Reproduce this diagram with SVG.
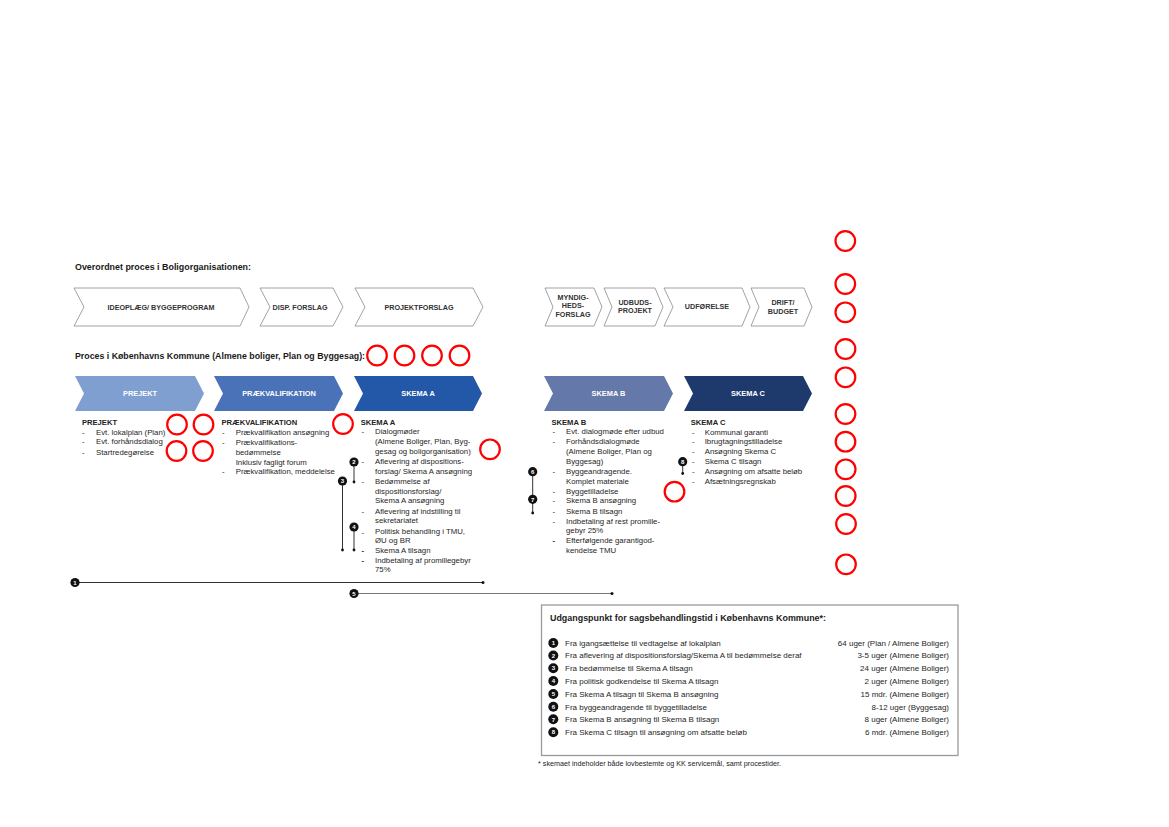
<svg xmlns="http://www.w3.org/2000/svg" width="1169" height="827" viewBox="0 0 1169 827">
<defs>
<style>
text{font-family:"Liberation Sans",Arial,sans-serif;fill:#222}
.ttl{font-size:8.3px;font-weight:700;fill:#1a1a1a}
.ch{fill:#fff;stroke:#8a8a8a;stroke-width:0.8}
.chl{font-size:7.2px;font-weight:700;fill:#333;text-anchor:middle}
.cl{font-size:7.4px;font-weight:700;fill:#fff;text-anchor:middle}
.hd{font-size:7.6px;font-weight:700;fill:#222}
.it{font-size:7.8px;fill:#262626}
.rc{fill:none;stroke:#ff0000;stroke-width:2.2}
.mk{fill:#111}
.mt{font-size:6px;font-weight:700;fill:#fff;text-anchor:middle}
.ln{stroke:#333;stroke-width:1;fill:none}
.lg{font-size:8px;fill:#262626}
.lr{font-size:8px;fill:#262626;text-anchor:end}
</style>
</defs>
<rect width="1169" height="827" fill="#fff"/>

<text class="ttl" x="75" y="270" textLength="176" lengthAdjust="spacingAndGlyphs">Overordnet proces i Boligorganisationen:</text>

<g id="top-ideoplaeg"><polygon class="ch" points="74,288 240,288 249,307 240,326 74,326 84,307"/><text class="chl" x="161" y="309.5">IDEOPLÆG/ BYGGEPROGRAM</text></g>
<g id="top-disp"><polygon class="ch" points="260,288 333,288 343,307 333,326 260,326 270,307"/><text class="chl" x="300" y="309.5">DISP. FORSLAG</text></g>
<g id="top-projektforslag"><polygon class="ch" points="355,288 473,288 483,307 473,326 355,326 365,307"/><text class="chl" x="419" y="309.5">PROJEKTFORSLAG</text></g>
<g id="top-myndighed"><polygon class="ch" points="545,288 594,288 602,307 594,326 545,326 553,307"/><text class="chl" x="573" y="299.5">MYNDIG-</text><text class="chl" x="573" y="308">HEDS-</text><text class="chl" x="573" y="317">FORSLAG</text></g>
<g id="top-udbud"><polygon class="ch" points="604,288 655,288 663,307 655,326 604,326 612,307"/><text class="chl" x="635" y="304.5">UDBUDS-</text><text class="chl" x="635" y="313">PROJEKT</text></g>
<g id="top-udforelse"><polygon class="ch" points="664,288 742,288 750,307 742,326 664,326 673,307"/><text class="chl" x="707" y="309">UDFØRELSE</text></g>
<g id="top-drift"><polygon class="ch" points="751,288 804,288 812,307 804,326 751,326 759,307"/><text class="chl" x="783" y="304.5">DRIFT/</text><text class="chl" x="783" y="313.5">BUDGET</text></g>

<text class="ttl" x="75" y="358.5" textLength="290" lengthAdjust="spacingAndGlyphs">Proces i Københavns Kommune (Almene boliger, Plan og Byggesag):</text>

<g id="kk-prejekt"><polygon fill="#7f9fd0" points="75,376 195,376 204,393.5 195,411 75,411 84,393.5"/><text class="cl" x="140" y="396.3">PREJEKT</text></g>
<g id="kk-praekval"><polygon fill="#4a72b8" points="214,376 334,376 343,393.5 334,411 214,411 223,393.5"/><text class="cl" x="279" y="396.3">PRÆKVALIFIKATION</text></g>
<g id="kk-skemaA"><polygon fill="#2357a8" points="354,376 473,376 482,393.5 473,411 354,411 363,393.5"/><text class="cl" x="418" y="396.3">SKEMA A</text></g>
<g id="kk-skemaB"><polygon fill="#6479a9" points="544,376 664,376 673,393.5 664,411 544,411 553,393.5"/><text class="cl" x="608.5" y="396.3">SKEMA B</text></g>
<g id="kk-skemaC"><polygon fill="#1e3a6c" points="684,376 803,376 812,393.5 803,411 684,411 693,393.5"/><text class="cl" x="748" y="396.3">SKEMA C</text></g>

<g id="col-prejekt">
<text class="hd" x="82" y="425">PREJEKT</text>
<text class="it" x="82" y="434.5">-</text><text class="it" x="96" y="434.5">Evt. lokalplan (Plan)</text>
<text class="it" x="82" y="444.2">-</text><text class="it" x="96" y="444.2">Evt. forhåndsdialog</text>
<text class="it" x="82" y="454.5">-</text><text class="it" x="96" y="454.5">Startredegørelse</text>
</g>

<g id="col-praekval">
<text class="hd" x="221.5" y="425">PRÆKVALIFIKATION</text>
<text class="it" x="222" y="434.8">-</text><text class="it" x="235.7" y="434.8">Prækvalifikation ansøgning</text>
<text class="it" x="222" y="444.8">-</text><text class="it" x="235.7" y="444.8">Prækvalifikations-</text>
<text class="it" x="235.7" y="454.8">bedømmelse</text>
<text class="it" x="235.7" y="464.8">Inklusiv fagligt forum</text>
<text class="it" x="222" y="474.2">-</text><text class="it" x="235.7" y="474.2">Prækvalifikation, meddelelse</text>
</g>

<g id="col-skemaA">
<text class="hd" x="360.7" y="424.5">SKEMA A</text>
<text class="it" x="361.5" y="434.2">-</text><text class="it" x="375" y="434.2">Dialogmøder</text>
<text class="it" x="375" y="444.2">(Almene Boliger, Plan, Byg-</text>
<text class="it" x="375" y="454.2">gesag og boligorganisation)</text>
<text class="it" x="361.5" y="464.2">-</text><text class="it" x="375" y="464.2">Aflevering af dispositions-</text>
<text class="it" x="375" y="473.5">forslag/ Skema A ansøgning</text>
<text class="it" x="361.5" y="483.5">-</text><text class="it" x="375" y="483.5">Bedømmelse af</text>
<text class="it" x="375" y="493.5">dispositionsforslag/</text>
<text class="it" x="375" y="503.2">Skema A ansøgning</text>
<text class="it" x="361.5" y="513.5">-</text><text class="it" x="375" y="513.5">Aflevering af indstilling til</text>
<text class="it" x="375" y="523.2">sekretariatet</text>
<text class="it" x="361.5" y="534.5">-</text><text class="it" x="375" y="533.5">Politisk behandling i TMU,</text>
<text class="it" x="375" y="542.5">ØU og BR</text>
<text class="it" x="361.5" y="552.5" font-weight="700">-</text><text class="it" x="375" y="552.5">Skema A tilsagn</text>
<text class="it" x="361.5" y="562.5" font-weight="700">-</text><text class="it" x="375" y="562.5">Indbetaling af promillegebyr</text>
<text class="it" x="375" y="571.5">75%</text>
</g>

<g id="col-skemaB">
<text class="hd" x="551.5" y="425">SKEMA B</text>
<text class="it" x="552.5" y="434.2">-</text><text class="it" x="566" y="434.2">Evt. dialogmøde efter udbud</text>
<text class="it" x="552.5" y="444.2">-</text><text class="it" x="566" y="444.2">Forhåndsdialogmøde</text>
<text class="it" x="566" y="454.2">(Almene Boliger, Plan og</text>
<text class="it" x="566" y="464.2">Byggesag)</text>
<text class="it" x="552.5" y="474.2">-</text><text class="it" x="566" y="474.2">Byggeandragende.</text>
<text class="it" x="566" y="483.5">Komplet materiale</text>
<text class="it" x="552.5" y="493.5">-</text><text class="it" x="566" y="493.5">Byggetilladelse</text>
<text class="it" x="552.5" y="503.2">-</text><text class="it" x="566" y="503.2">Skema B ansøgning</text>
<text class="it" x="552.5" y="513.5">-</text><text class="it" x="566" y="513.5">Skema B tilsagn</text>
<text class="it" x="552.5" y="523.5">-</text><text class="it" x="566" y="523.5">Indbetaling af rest promille-</text>
<text class="it" x="566" y="533.2">gebyr 25%</text>
<text class="it" x="552.5" y="542.5" font-weight="700">-</text><text class="it" x="566" y="542.5">Efterfølgende garantigod-</text>
<text class="it" x="566" y="552.5">kendelse TMU</text>
</g>

<g id="col-skemaC">
<text class="hd" x="690.7" y="425">SKEMA C</text>
<text class="it" x="692" y="434.8">-</text><text class="it" x="704.7" y="434.8">Kommunal garanti</text>
<text class="it" x="692" y="444.2">-</text><text class="it" x="704.7" y="444.2">Ibrugtagningstilladelse</text>
<text class="it" x="692" y="454.2">-</text><text class="it" x="704.7" y="454.2">Ansøgning Skema C</text>
<text class="it" x="692" y="464.2">-</text><text class="it" x="704.7" y="464.2">Skema C tilsagn</text>
<text class="it" x="692" y="473.5">-</text><text class="it" x="704.7" y="473.5">Ansøgning om afsatte beløb</text>
<text class="it" x="692" y="483.5">-</text><text class="it" x="704.7" y="483.5">Afsætningsregnskab</text>
</g>

<g id="connectors">
<line class="ln" x1="354" y1="462" x2="354" y2="482"/><circle cx="354" cy="482" r="1.4" class="mk"/>
<line class="ln" x1="342.5" y1="481" x2="342.5" y2="550"/><circle cx="342.5" cy="550" r="1.4" class="mk"/>
<line class="ln" x1="354" y1="527" x2="354" y2="550"/><circle cx="354" cy="550" r="1.4" class="mk"/>
<line class="ln" x1="532.7" y1="472" x2="532.7" y2="513"/><circle cx="532.7" cy="513" r="1.4" class="mk"/>
<line class="ln" x1="682.7" y1="462" x2="682.7" y2="473.5"/><circle cx="682.7" cy="473.5" r="1.4" class="mk"/>
<line class="ln" x1="75" y1="582.5" x2="483" y2="582.5"/><circle cx="483" cy="582.5" r="1.5" class="mk"/>
<line x1="354" y1="593.5" x2="612" y2="593.5" stroke="#777" stroke-width="1"/><circle cx="612" cy="593.5" r="1.5" class="mk"/>
</g>

<g id="markers">
<g><circle class="mk" cx="354" cy="462" r="4.6"/><text class="mt" x="354" y="464.2">2</text></g>
<g><circle class="mk" cx="342.5" cy="481" r="4.6"/><text class="mt" x="342.5" y="483.2">3</text></g>
<g><circle class="mk" cx="354" cy="527" r="4.6"/><text class="mt" x="354" y="529.2">4</text></g>
<g><circle class="mk" cx="532.7" cy="471.7" r="4.6"/><text class="mt" x="532.7" y="473.9">6</text></g>
<g><circle class="mk" cx="532.7" cy="499.3" r="4.6"/><text class="mt" x="532.7" y="501.5">7</text></g>
<g><circle class="mk" cx="682.7" cy="461.7" r="4.6"/><text class="mt" x="682.7" y="463.9">8</text></g>
<g><circle class="mk" cx="75" cy="582.5" r="4.6"/><text class="mt" x="75" y="584.7">1</text></g>
<g><circle class="mk" cx="354" cy="593.5" r="4.6"/><text class="mt" x="354" y="595.7">5</text></g>
</g>

<g id="legend">
<rect x="541.5" y="605" width="416.5" height="150.5" fill="#fff" stroke="#9a9a9a" stroke-width="1.3"/>
<text x="550" y="620.5" font-size="9" font-weight="700" fill="#1a1a1a" textLength="276" lengthAdjust="spacingAndGlyphs">Udgangspunkt for sagsbehandlingstid i Københavns Kommune*:</text>
<g><circle class="mk" cx="553.3" cy="643" r="5"/><text class="mt" x="553.3" y="645.2">1</text><text class="lg" x="565" y="645.8">Fra igangsættelse til vedtagelse af lokalplan</text><text class="lr" x="949" y="645.8">64 uger (Plan / Almene Boliger)</text></g>
<g><circle class="mk" cx="553.3" cy="655.5" r="5"/><text class="mt" x="553.3" y="657.7">2</text><text class="lg" x="565" y="658.3">Fra aflevering af dispositionsforslag/Skema A til bedømmelse deraf</text><text class="lr" x="949" y="658.3">3-5 uger (Almene Boliger)</text></g>
<g><circle class="mk" cx="553.3" cy="668.2" r="5"/><text class="mt" x="553.3" y="670.4">3</text><text class="lg" x="565" y="671">Fra bedømmelse til Skema A tilsagn</text><text class="lr" x="949" y="671">24 uger (Almene Boliger)</text></g>
<g><circle class="mk" cx="553.3" cy="681" r="5"/><text class="mt" x="553.3" y="683.2">4</text><text class="lg" x="565" y="683.8">Fra politisk godkendelse til Skema A tilsagn</text><text class="lr" x="949" y="683.8">2 uger (Almene Boliger)</text></g>
<g><circle class="mk" cx="553.3" cy="694" r="5"/><text class="mt" x="553.3" y="696.2">5</text><text class="lg" x="565" y="696.8">Fra Skema A tilsagn til Skema B ansøgning</text><text class="lr" x="949" y="696.8">15 mdr. (Almene Boliger)</text></g>
<g><circle class="mk" cx="553.3" cy="706.7" r="5"/><text class="mt" x="553.3" y="708.9">6</text><text class="lg" x="565" y="709.5">Fra byggeandragende til byggetilladelse</text><text class="lr" x="949" y="709.5">8-12 uger (Byggesag)</text></g>
<g><circle class="mk" cx="553.3" cy="719.3" r="5"/><text class="mt" x="553.3" y="721.5">7</text><text class="lg" x="565" y="722.1">Fra Skema B ansøgning til Skema B tilsagn</text><text class="lr" x="949" y="722.1">8 uger (Almene Boliger)</text></g>
<g><circle class="mk" cx="553.3" cy="732.2" r="5"/><text class="mt" x="553.3" y="734.4">8</text><text class="lg" x="565" y="735">Fra Skema C tilsagn til ansøgning om afsatte beløb</text><text class="lr" x="949" y="735">6 mdr. (Almene Boliger)</text></g>
</g>
<text x="538" y="765.5" font-size="7.2" fill="#777">* skemaet indeholder både lovbestemte og KK servicemål, samt procestider.</text>

<g id="red-circles">
<circle class="rc" cx="377" cy="355.5" r="9.8"/>
<circle class="rc" cx="404.5" cy="355.5" r="9.8"/>
<circle class="rc" cx="432" cy="355.5" r="9.8"/>
<circle class="rc" cx="459.5" cy="355.5" r="9.8"/>
<circle class="rc" cx="177" cy="424.5" r="9.8"/>
<circle class="rc" cx="203.5" cy="424.5" r="9.8"/>
<circle class="rc" cx="176.5" cy="451" r="9.8"/>
<circle class="rc" cx="203" cy="451" r="9.8"/>
<circle class="rc" cx="343" cy="424" r="9.8"/>
<circle class="rc" cx="490" cy="449.3" r="9.8"/>
<circle class="rc" cx="674.5" cy="491.7" r="9.8"/>
<circle class="rc" cx="845.3" cy="241" r="9.8"/>
<circle class="rc" cx="845.3" cy="284" r="9.8"/>
<circle class="rc" cx="845.3" cy="312.3" r="9.8"/>
<circle class="rc" cx="845.5" cy="349" r="9.8"/>
<circle class="rc" cx="845.5" cy="377.3" r="9.8"/>
<circle class="rc" cx="845.5" cy="414" r="9.8"/>
<circle class="rc" cx="845.5" cy="441.7" r="9.8"/>
<circle class="rc" cx="845.7" cy="469.3" r="9.8"/>
<circle class="rc" cx="845.7" cy="496" r="9.8"/>
<circle class="rc" cx="846" cy="524" r="9.8"/>
<circle class="rc" cx="846" cy="564.3" r="9.8"/>
</g>
</svg>
